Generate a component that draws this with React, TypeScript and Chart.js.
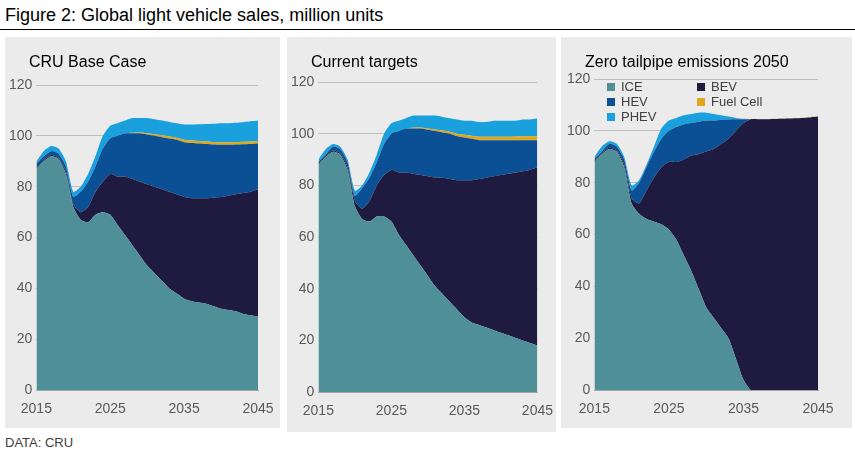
import React, { useEffect, useRef } from "react";
import { Chart, registerables } from "chart.js";
Chart.register(...registerables);

const years = Array.from({ length: 31 }, (_, i) => 2015 + i);
const seriesNames = ["ICE", "BEV", "HEV", "Fuel Cell", "PHEV"];
const colors = ["#4e8f98", "#1f1a40", "#0b4f94", "#e0a81c", "#1aa0dc"];
const xTicks = [2015, 2025, 2035, 2045];

// cumulative tops of each stacked layer, million units
const baseIceTop = [87,90,92,91,85,72,67,66,69,70,69,65,61,57,53,49,46,43,40,38,36,35,34.5,34,33,32,31.5,31,30,29.5,29];
const baseBevTop = [87.5,90.5,92.5,91.5,86,73,70,72,78,82,85,84,84,83,82,81,80,79,78,77,76,75.5,75.5,75.5,75.8,76,76.5,77,77.5,78,79];
const baseHevTop = [89,92,94,93,88,76,78,82,88,95,99,100,101,101,101,100.5,100,99.5,99,98.5,97.5,97.2,97,96.8,96.6,96.5,96.5,96.6,96.7,96.8,97];
const baseFcTop = [89,92,94,93,88,76,78,82,88,95,99,100,101,101.2,101.3,101,100.6,100.2,99.8,99.3,98.5,98.2,98,97.8,97.6,97.5,97.5,97.6,97.7,97.8,98];
const basePhevTop = [90,94,96,95,90,78,80,85,92,100,104,105,106,107,107,107,106.5,106,105.5,105,104.5,104.5,104.6,104.7,104.8,105,105,105.2,105.4,105.7,106];

const tgtIceTop = [88,91,93,92,86,72,67,66,68,68,66,61,57,53,49,45,41,38,35,32,29,27,26,25,24,23,22,21,20,19,18];
const tgtBevTop = [88.5,91.5,93.5,92.5,87,74,71,74,80,84,86,85,85,84.5,84,83.5,83,83,82.5,82,82,82,82.5,83,83.5,84,84.5,85,85.5,86,87];
const tgtHevTop = [89,92,95,94,89,76,79,83,89,96,100,101,102,102,102,101.5,101,100.5,100,99,98.5,98,97.5,97.5,97.5,97.5,97.5,97.5,97.5,97.5,97.5];
const tgtFcTop = [89,92,95,94,89,76,79,83,89,96,100,101,102,102.3,102.4,102,101.6,101.2,100.8,100,99.6,99.2,98.8,98.8,98.8,98.8,98.8,98.9,99,99,99];
const tgtPhevTop = [90,94,96,95,90,78,80,85,92,100,104,105,106,107,107,107,107,106.5,106,105.5,105,105,104.5,104.5,105,105,105,105,105.5,105.5,106];

const zeroIceTop = [88,91,93,92,86,72,68,66,65,64,62,58,52,46,39,32,28,24,20,12,4,0,0,0,0,0,0,0,0,0,0];
const zeroBevTop = [88.5,91.5,93.5,92.5,87,74,72,77,82,86,88,88,89,90.5,91,92,93,95,97,100,103,104.5,104.5,104.5,104.6,104.7,104.8,104.9,105,105.2,105.5];
const zeroHevTop = [89,92,95,94,89,77,80,86,92,97,100,101.5,102.5,103,103.5,104,104,104.3,104.4,104.5,104.5,104.5,104.5,104.5,104.6,104.7,104.8,104.9,105,105.2,105.5];
const zeroFcTop = [89,92,95,94,89,77,80,86,92,97,100,101.5,102.5,103,103.5,104,104,104.3,104.4,104.5,104.6,104.6,104.6,104.6,104.7,104.8,104.9,105,105.1,105.3,105.6];
const zeroPhevTop = [90,94,96,95,90,79,81,87,94,101,104,105,106,106.5,107,107,106.5,106,105.5,105,104.7,104.6,104.6,104.6,104.7,104.8,104.9,105,105.1,105.3,105.6];

const panels = [
  { title: "CRU Base Case", left: 5, top: 37, width: 275, height: 391, pad: { top: 48, left: 0, right: 22, bottom: 7 }, tops: [baseIceTop, baseBevTop, baseHevTop, baseFcTop, basePhevTop], legend: false },
  { title: "Current targets", left: 287, top: 37, width: 269, height: 395, pad: { top: 45, left: 0, right: 18, bottom: 9 }, tops: [tgtIceTop, tgtBevTop, tgtHevTop, tgtFcTop, tgtPhevTop], legend: false },
  { title: "Zero tailpipe emissions 2050", left: 561, top: 37, width: 291, height: 391, pad: { top: 42, left: 2, right: 34, bottom: 7 }, tops: [zeroIceTop, zeroBevTop, zeroHevTop, zeroFcTop, zeroPhevTop], legend: true },
];

function Panel({ p }: { p: any }) {
  const ref = useRef<HTMLCanvasElement>(null);
  useEffect(() => {
    const chart = new Chart(ref.current!, {
      type: "line",
      data: {
        datasets: p.tops.map((arr: number[], i: number) => ({
          label: seriesNames[i],
          data: arr.map((v, j) => ({ x: years[j], y: v })),
          backgroundColor: colors[i],
          borderColor: colors[i],
          borderWidth: 0,
          pointRadius: 0,
          fill: i === 0 ? "origin" : "-1",
          tension: 0.2,
        })),
      },
      options: {
        animation: false,
        responsive: false,
        layout: { padding: p.pad },
        plugins: { legend: { display: false }, tooltip: { enabled: false } },
        scales: {
          x: {
            type: "linear", min: 2015, max: 2045,
            afterBuildTicks: (s: any) => { s.ticks = xTicks.map((v) => ({ value: v })); },
            ticks: { color: "#595959", font: { family: "Arial, Liberation Sans", size: 14 }, maxRotation: 0, callback: (v: any) => String(v) },
            grid: { display: false },
            border: { color: "#a6a6a6" },
          },
          y: {
            min: 0, max: 120,
            ticks: { stepSize: 20, color: "#595959", font: { family: "Arial, Liberation Sans", size: 14 }, padding: 4 },
            grid: { color: "#bfbfbf", drawTicks: false },
            border: { display: false },
          },
        },
      },
    });
    return () => chart.destroy();
  }, []);
  const legendItems = [0, 1, 2, 3, 4];
  return (
    <div style={{ position: "absolute", left: p.left, top: p.top, width: p.width, height: p.height, background: "#ebebeb" }}>
      <canvas ref={ref} width={p.width} height={p.height} style={{ position: "absolute", left: 0, top: 0 }} />
      <div style={{ position: "absolute", left: 24, top: 16, fontSize: 16, color: "#000" }}>{p.title}</div>
      {p.legend && (
        <div style={{ position: "absolute", left: 46, top: 42, width: 190, display: "grid", gridTemplateColumns: "90px 100px", rowGap: 0, fontSize: 13, color: "#404040", lineHeight: "15px" }}>
          {legendItems.map((i) => (
            <div key={i} style={{ display: "flex", alignItems: "center" }}>
              <span style={{ width: 8, height: 8, background: colors[i], marginRight: 6, display: "inline-block" }} />
              {seriesNames[i]}
            </div>
          ))}
        </div>
      )}
    </div>
  );
}

export default function App() {
  return (
    <div style={{ position: "fixed", left: 0, top: 0, width: 855, height: 458, background: "#fff", fontFamily: "Arial, 'Liberation Sans', sans-serif" }}>
      <div style={{ position: "absolute", left: 5, top: 5, fontSize: 18, color: "#000" }}>Figure 2: Global light vehicle sales, million units</div>
      <div style={{ position: "absolute", left: 0, top: 29, width: 855, height: 1, background: "#000" }} />
      {panels.map((p, i) => <Panel key={i} p={p} />)}
      <div style={{ position: "absolute", left: 5, top: 435, fontSize: 13, color: "#404040" }}>DATA: CRU</div>
    </div>
  );
}
